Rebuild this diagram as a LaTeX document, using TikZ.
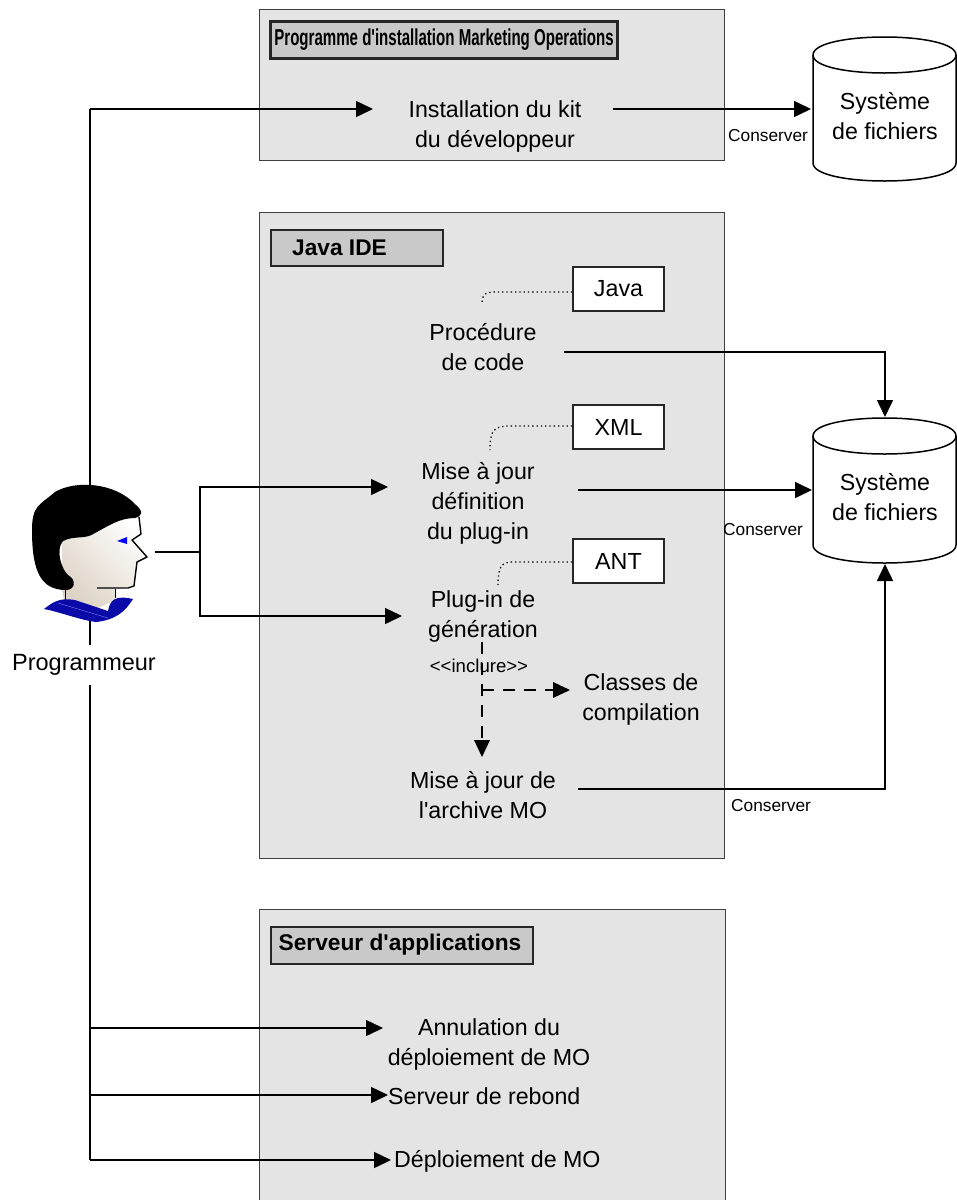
\documentclass[tikz,border=0pt]{standalone}
\usepackage{fontspec}
\usepackage{graphicx}
\setmainfont{Liberation Sans}
\newfontfamily\plainface{Liberation Sans}
\newcommand{\straightapos}{{\plainface\char39 }}
\usetikzlibrary{arrows.meta,calc}
\definecolor{panelgray}{HTML}{E4E4E4}
\definecolor{titlegray}{HTML}{C9C9C9}
\definecolor{collarblue}{HTML}{0A0AA8}
\definecolor{skin}{HTML}{DDD3C5}
\tikzset{
  x=1pt,y=-1pt,
  panel/.style={draw=black!75,fill=panelgray,line width=0.9pt},
  titlebox/.style={draw=black!85,fill=titlegray,line width=2pt},
  tagbox/.style={draw=black!85,fill=white,line width=1.6pt,minimum width=91pt,minimum height=44pt,inner sep=0pt,font=\fontsize{23.3}{27}\selectfont},
  txt/.style={inner sep=0pt,align=center,font=\fontsize{23.2}{30}\selectfont},
  small/.style={inner sep=0pt,font=\fontsize{17.3}{20}\selectfont},
  conn/.style={line width=1.5pt,-{Triangle[length=17pt,width=16pt]}},
  plainconn/.style={line width=1.5pt},
  dashconn/.style={line width=1.5pt,dash pattern=on 12pt off 9pt},
  dot/.style={line width=1.3pt,dash pattern=on 1.3pt off 3pt},
  cyl/.style={draw=black,fill=white,line width=1.5pt},
}
\begin{document}
\begin{tikzpicture}
\useasboundingbox (0,0) rectangle (957,1200);
% panels
\path[panel] (259,9) rectangle (724,160);
\path[panel] (259,212) rectangle (724,858);
\path[panel] (259,909) rectangle (725,1210);
\node[titlebox,line width=2.6pt,minimum width=347pt,minimum height=37pt,inner sep=0pt] (t1) at (444,40) {\scalebox{0.655}[1]{\fontsize{23}{27}\selectfont\bfseries Programme d\straightapos installation Marketing Operations}};
\node[titlebox,minimum width=172pt,minimum height=36pt,inner sep=0pt] (t2) at (357,247.5) {};
\node[font=\fontsize{22.7}{27}\selectfont\bfseries,anchor=west,inner sep=0pt] (t2t) at (292,247.5) {Java IDE};
\node[titlebox,minimum width=262pt,minimum height=37pt,inner sep=0pt] (t3) at (402,945) {\hspace*{-4pt}\fontsize{22.7}{27}\selectfont\bfseries Serveur d\straightapos applications};
% tags
\node[tagbox] (java) at (618.5,289) {Java};
\node[tagbox] (xml) at (618.5,427) {XML};
\node[tagbox] (ant) at (618.5,561) {ANT};
% cylinders
\path[cyl] (813,55) -- (813,163) .. controls (813,187) and (956,187) .. (956,163) -- (956,55) .. controls (956,31) and (813,31) .. (813,55) -- cycle;
\path[cyl,fill=none] (813,55) .. controls (813,79) and (956,79) .. (956,55);
\path[cyl] (813,436) -- (813,545) .. controls (813,569) and (956,569) .. (956,545) -- (956,436) .. controls (956,412) and (813,412) .. (813,436) -- cycle;
\path[cyl,fill=none] (813,436) .. controls (813,460) and (956,460) .. (956,436);
\node[txt] (fs1) at (885,116) {Système\\de fichiers};
\node[txt] (fs2) at (885,497) {Système\\de fichiers};
% task labels
\node[txt] (kit) at (495,126) {Installation du kit\\du développeur};
\node[txt] (proc) at (483,347) {Procédure\\de code};
\node[txt] (maj) at (478,503) {Mise à jour\\définition\\du plug-in};
\node[txt] (plug) at (483,616) {Plug-in de\\génération};
\node[txt] (cls) at (641,699) {Classes de\\compilation};
\node[txt] (arch) at (483,795) {Mise à jour de\\l\straightapos archive MO};
\node[txt] (annul) at (489,1044) {Annulation du\\déploiement de MO};
\node[txt,anchor=west] (reb) at (388,1096) {Serveur de rebond};
\node[txt,anchor=west] (depl) at (394,1161) {Déploiement de MO};
% coordinates
\coordinate (busTop) at (90,109);
\coordinate (busBot) at (90,1160);
\coordinate (kitIn) at (373,109);
\coordinate (kitOut) at (613,109);
\coordinate (fs1In) at (811,109);
\coordinate (procOut) at (564,352);
\coordinate (fs2Top) at (885,417);
\coordinate (majOut) at (578,490);
\coordinate (fs2Left) at (812,490);
\coordinate (archOut) at (578,789);
\coordinate (fs2Bot) at (885,564);
\coordinate (mouth) at (155,552);
\coordinate (split) at (200,552);
\coordinate (majIn) at (388,487);
\coordinate (plugIn) at (402,616);
\coordinate (dashTop) at (482,642);
\coordinate (dashJ) at (482,690);
\coordinate (archIn) at (482,757);
\coordinate (clsIn) at (570,690);
\coordinate (annulIn) at (383,1028);
\coordinate (rebIn) at (388,1095);
\coordinate (deplIn) at (391,1160);
% connectors
\draw[plainconn] (busTop) -- (busBot);
\draw[conn] (busTop) -- (kitIn);
\draw[conn] (kitOut) -- (fs1In);
\draw[conn] (procOut) -| (fs2Top);
\draw[conn] (majOut) -- (fs2Left);
\draw[conn] (archOut) -| (fs2Bot);
\draw[plainconn] (mouth) -- (split);
\draw[conn] (split) |- (majIn);
\draw[conn] (split) |- (plugIn);
\draw[conn] (90,1028) -- (annulIn);
\draw[conn] (90,1095) -- (rebIn);
\draw[conn] (90,1160) -- (deplIn);
\draw[dashconn] (dashTop) -- (482,742);
\draw[dashconn] (dashJ) -- (556,690);
\fill (archIn) -- (474,740) -- (490,740) -- cycle;
\fill (clsIn) -- (553,682) -- (553,698) -- cycle;
% dotted
\draw[dot] (java.west |- 0,292) -- (498,292) .. controls (486,292) and (482,293) .. (482,304);
\draw[dot] (xml.west |- 0,426) -- (510,426) .. controls (494,426) and (490,430) .. (490,450);
\draw[dot] (ant.west |- 0,562) -- (512,562) .. controls (501,562) and (498,568) .. (498,585);
% small labels
\node[small,anchor=west] (c1) at (728,136) {Conserver};
\node[small,anchor=west] (c2) at (723,530) {Conserver};
\node[small,anchor=west] (c3) at (731,806) {Conserver};
\node[small,font=\fontsize{18.6}{20}\selectfont] (incl) at (479,666) {{<}{<}inclure{>}{>}};
% person
\node[inner sep=0pt,fill=white,font=\fontsize{23.5}{27}\selectfont,minimum height=40pt,minimum width=150pt] (prog) at (84,665) {Programmeur};
\shade[left color=skin,right color=white,shading angle=135]
  (62,590) -- (62,540) .. controls (75,520) and (110,510) .. (139,517) -- (140,534) -- (132,540) -- (147,557) -- (137,562) -- (134,586) -- (115,589) -- (115,600) -- (90,612) -- (65,605) -- cycle;
\draw[line width=1.4pt,line join=round] (139,517) -- (141,534) -- (132,540) -- (147,557) -- (137,562) -- (134,586) -- (128,588) -- (97,588);
\draw[line width=1pt] (65,590) -- (65,600);
\draw[line width=1pt] (115,589) -- (115,598);
\fill[black] (66,590) .. controls (40,590) and (32,570) .. (32,530) .. controls (32,505) and (40,505) .. (55,492) .. controls (75,480) and (115,482) .. (136,505) .. controls (144,512) and (142,516) .. (135,518) .. controls (120,518) and (110,525) .. (95,533) .. controls (85,540) and (75,535) .. (63,541) .. controls (55,550) and (62,570) .. (68,575) .. controls (77,580) and (75,590) .. (66,590) -- cycle;
\fill[collarblue] (44,609) .. controls (55,600) and (62,598) .. (75,600) -- (108,611) .. controls (110,600) and (115,595) .. (133,599) .. controls (125,612) and (115,620) .. (96,622) .. controls (80,620) and (60,612) .. (44,609) -- cycle;
\draw[white!60!blue,line width=0.3pt] (58,603) -- (108,618);
\fill[blue] (117,541) -- (127,537) -- (127,544) -- cycle;
\end{tikzpicture}
\end{document}
